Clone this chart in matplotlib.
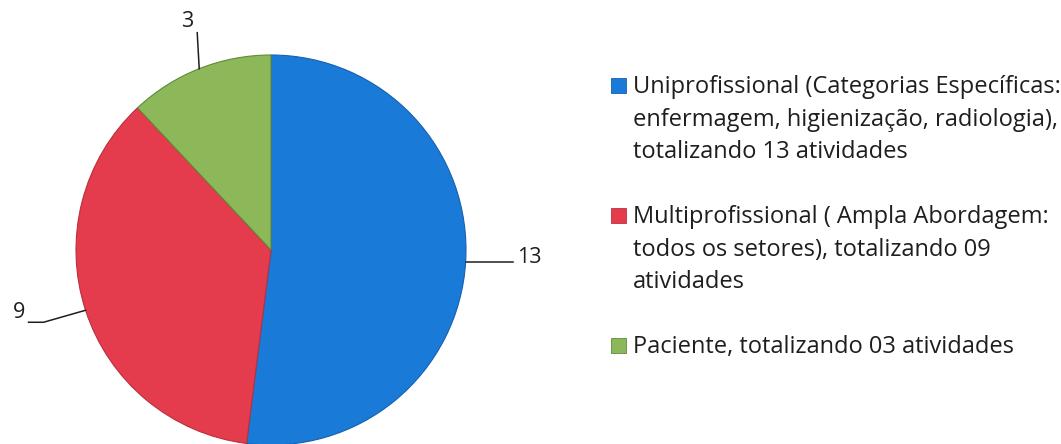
import numpy as np
import matplotlib
matplotlib.use("Agg")
import matplotlib.pyplot as plt
from matplotlib.patches import Rectangle

# ─── DATA ──────────────────────────────────────────────────────────────────────
values = [13, 9, 3]
legend_labels = [
    ["Uniprofissional (Categorias Específicas:",
     "enfermagem, higienização, radiologia),",
     "totalizando 13 atividades"],
    ["Multiprofissional ( Ampla Abordagem:",
     "todos os setores), totalizando 09",
     "atividades"],
    ["Paciente, totalizando 03 atividades"],
]
colors = ["#1a7ad8", "#e43c4c", "#8cb85a"]
edge_colors = ["#1560b0", "#b83040", "#5e8a3a"]
# ───────────────────────────────────────────────────────────────────────────────

W, H = 1061, 444
fig = plt.figure(figsize=(W / 100, H / 100), dpi=100)
plt.rcParams["font.family"] = ["Open Sans", "DejaVu Sans"]
TXT = "#1e1e1e"

cx, cy, r = 271, 444 - 250, 195
ax = fig.add_axes([(cx - r) / W, (cy - r) / H, 2 * r / W, 2 * r / H])
wedges, _ = ax.pie(values, colors=colors, startangle=90, counterclock=False,
                   radius=1.0, wedgeprops=dict(linewidth=0.8))
for w, ec in zip(wedges, edge_colors):
    w.set_edgecolor(ec)
ax.set_xlim(-1, 1)
ax.set_ylim(-1, 1)
ax.set_aspect("equal")
ax.axis("off")

# leader lines + value labels, offsets in pixels from wedge edge
offsets = [((42, 0), (47, 0)), ((-42, -12), (-57, -12)), ((-2, 36), (-2, 36))]
for w, v, (knee, end) in zip(wedges, values, offsets):
    ang = np.deg2rad((w.theta1 + w.theta2) / 2)
    x0, y0 = np.cos(ang), np.sin(ang)
    k = (x0 + knee[0] / r, y0 + knee[1] / r)
    e = (x0 + end[0] / r, y0 + end[1] / r)
    ax.plot([x0, k[0], e[0]], [y0, k[1], e[1]], color=TXT, lw=1.1,
            clip_on=False)
    if end[0] > 0:
        ax.text(e[0] + 4 / r, e[1] + 5 / r, str(v), ha="left", va="center",
                fontsize=15.5, color=TXT)
    elif end[1] > 10:
        ax.text(e[0] - 4 / r, e[1] + 1 / r, str(v), ha="right", va="bottom",
                fontsize=15.5, color=TXT)
    else:
        ax.text(e[0] - 3 / r, e[1] + 10 / r, str(v), ha="right", va="center",
                fontsize=15.5, color=TXT)

# legend, baselines in pixels from top
first_baselines = [93, 223, 353]
line_step = 32.5
for lines, col, ec, base in zip(legend_labels, colors, edge_colors, first_baselines):
    fig.patches.append(Rectangle((611 / W, (H - base) / H), 15 / W, 15 / H,
                                 transform=fig.transFigure, facecolor=col,
                                 edgecolor=ec, lw=0.6))
    for i, line in enumerate(lines):
        fig.text(633 / W, (H - base - i * line_step) / H, line, ha="left",
                 va="baseline", fontsize=17, color=TXT)

fig.savefig("out.png", dpi=100)
